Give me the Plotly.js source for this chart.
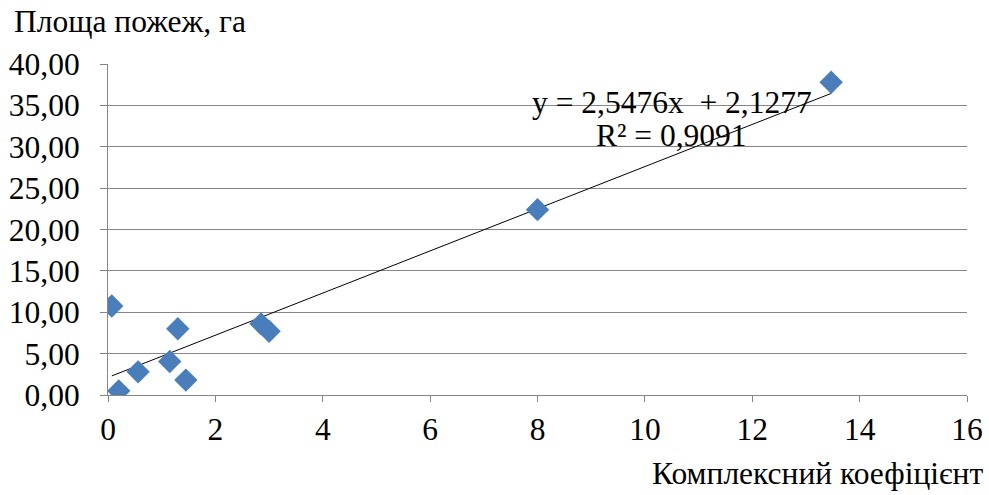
<!DOCTYPE html>
<html><head><meta charset="utf-8">
<script src="https://cdn.plot.ly/plotly-3.0.1.min.js"></script>
<style>body{margin:0;background:#fff}#c{width:989px;height:495px}</style>
</head><body><div id="c"></div>
<script>
const xValues = [0.07, 0.2, 0.56, 1.15, 1.3, 1.45, 2.85, 3.0, 8.0, 13.47];
const yValues = [10.75, 0.5, 2.8, 4.05, 8.0, 1.8, 8.6, 7.7, 22.4, 37.8];
const slope = 2.5476;
const intercept = 2.1277;
const equationLine1 = "y = 2,5476x  + 2,1277";
const equationLine2 = "R² = 0,9091";
const xTicks = [0, 2, 4, 6, 8, 10, 12, 14, 16];
const yTicks = [0, 5, 10, 15, 20, 25, 30, 35, 40];
const yTickText = ["0,00","5,00","10,00","15,00","20,00","25,00","30,00","35,00","40,00"];
const yTitle = "Площа пожеж, га";
const xTitle = "Комплексний коефіцієнт";

const xMin = Math.min(...xValues), xMax = Math.max(...xValues);
const trendX = [xMin, xMax];
const trendY = trendX.map(v => slope * v + intercept);
const mkFont = () => ({family: "Liberation Serif", size: 31.5, color: "#000000"});

const data = [
  {x: trendX, y: trendY, mode: "lines", type: "scatter", line: {color: "#000", width: 1}, hoverinfo: "skip"},
  {x: xValues, y: yValues, mode: "markers", type: "scatter",
   marker: {symbol: "diamond", size: 18, color: "#4a7ebb", line: {width: 0}}}
];
const layout = {
  width: 989, height: 495, showlegend: false,
  margin: {l: 108, r: 22, t: 64, b: 100},
  paper_bgcolor: "#fff", plot_bgcolor: "#fff",
  xaxis: {range: [0, 16], tickvals: xTicks, ticktext: xTicks.map(String), showgrid: false, zeroline: false,
    showline: true, linecolor: "#868686", linewidth: 1, ticks: "outside", ticklen: 6, tickcolor: "#868686", tickfont: mkFont()},
  yaxis: {range: [0, 40], tickvals: yTicks, ticktext: yTickText, showgrid: true, gridcolor: "#868686", gridwidth: 1,
    zeroline: false, showline: true, linecolor: "#868686", linewidth: 1, ticks: "outside", ticklen: 7, tickcolor: "#868686",
    tickfont: mkFont(), ticklabelstandoff: 14},
  annotations: [
    {text: yTitle, xref: "paper", yref: "paper", x: -96/859, y: 1 + 42/331, xanchor: "left", yanchor: "middle", showarrow: false, font: mkFont()},
    {text: xTitle, xref: "paper", yref: "paper", x: 1 + 18/859, y: -78/331, xanchor: "right", yanchor: "middle", showarrow: false, font: mkFont()},
    {text: equationLine1, xref: "x", yref: "y", x: 10.5, y: 35.3, xanchor: "center", yanchor: "middle", showarrow: false, font: mkFont()},
    {text: equationLine2, xref: "x", yref: "y", x: 10.5, y: 31.4, xanchor: "center", yanchor: "middle", showarrow: false, font: mkFont()}
  ]
};
Plotly.newPlot("c", data, layout, {displayModeBar: false});
</script></body></html>
